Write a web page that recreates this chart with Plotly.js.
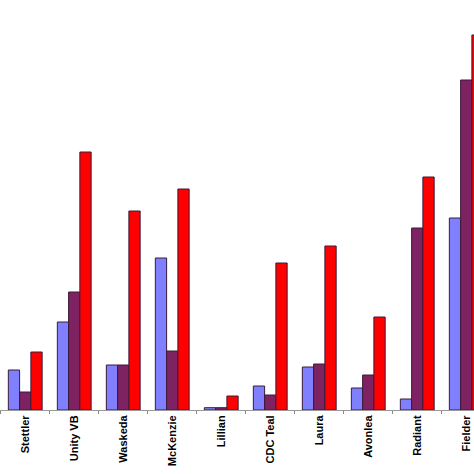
<!DOCTYPE html>
<html>
<head>
<meta charset="utf-8">
<script src="https://cdn.plot.ly/plotly-3.0.1.min.js"></script>
<style>
  html, body { margin: 0; padding: 0; background: #fff; }
  #chart { width: 474px; height: 474px; }
</style>
</head>
<body>
<div id="chart"></div>
<script>
/* values (no axis scale shown, arbitrary units) */
const cultivars = ["Stettler", "Unity VB", "Waskeda", "McKenzie", "Lillian",
                   "CDC Teal", "Laura", "Avonlea", "Radiant", "Fielder"];
const seriesA = [4.0, 8.8, 4.5, 15.2, 0.23, 2.4, 4.3, 2.2, 1.1, 19.2];
const seriesB = [1.8, 11.8, 4.5, 5.9, 0.23, 1.5, 4.6, 3.5, 18.2, 33.0];
const seriesC = [5.8, 25.8, 19.9, 22.1, 1.4, 14.7, 16.4, 9.3, 23.3, 37.5];

const COLORS = ["#8080ff", "#7f2262", "#ff0000"];

function barTrace(values, color) {
  return {
    type: "bar",
    x: cultivars,
    y: values,
    marker: { color: color, line: { color: "#3a1a3a", width: 1 } },
    hoverinfo: "x+y",
  };
}

const traces = [
  barTrace(seriesA, COLORS[0]),
  barTrace(seriesB, COLORS[1]),
  barTrace(seriesC, COLORS[2]),
];

const layout = {
  width: 474,
  height: 474,
  paper_bgcolor: "#fff",
  plot_bgcolor: "#fff",
  margin: { l: 0, r: 0, t: 0, b: 64 },
  showlegend: false,
  barmode: "group",
  bargap: 0.31,
  bargroupgap: 0,
  xaxis: {
    type: "category",
    range: [-0.515, 9.158],
    tickson: "boundaries",
    ticks: "outside",
    ticklen: 3,
    tickcolor: "#888",
    showline: true,
    linecolor: "#999",
    linewidth: 1,
    showgrid: false,
    zeroline: false,
    tickangle: -90,
    tickfont: { family: "Liberation Sans, Arial, sans-serif", size: 11, color: "#000", weight: "bold" },
  },
  yaxis: {
    range: [0, 41],
    visible: false,
    showgrid: false,
    zeroline: false,
  },
};

Plotly.newPlot("chart", traces, layout, { displayModeBar: false, staticPlot: true });
</script>
</body>
</html>
